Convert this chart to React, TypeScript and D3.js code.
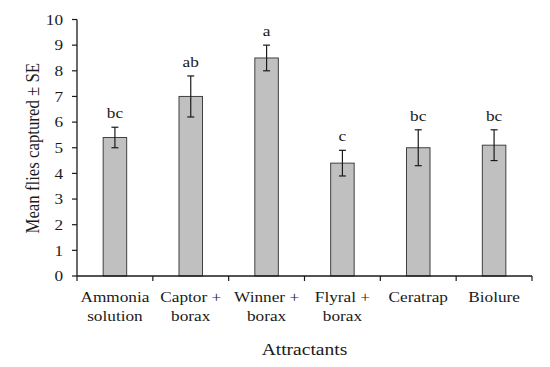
import React from 'react';
import * as d3 from 'd3';

// attractant categories (two-line labels) and their means / SE
const categories = ['Ammonia solution', 'Captor + borax', 'Winner + borax', 'Flyral + borax', 'Ceratrap', 'Biolure'];
const labelLines = [['Ammonia', 'solution'], ['Captor +', 'borax'], ['Winner +', 'borax'], ['Flyral +', 'borax'], ['Ceratrap'], ['Biolure']];
const means = [5.4, 7.0, 8.5, 4.4, 5.0, 5.1];
const errors = [0.4, 0.8, 0.5, 0.5, 0.7, 0.6];
const letters = ['bc', 'ab', 'a', 'c', 'bc', 'bc'];
const yTicks = [0, 1, 2, 3, 4, 5, 6, 7, 8, 9, 10];

const W = 550;
const H = 367;
const margin = { top: 19.5, right: 18, bottom: 91, left: 77 };
const font = "'Liberation Serif', 'Times New Roman', serif";
// the source image is a little stretched horizontally, text included
const sx = 1.15;

export default function App() {
  const x = d3.scaleBand<string>()
    .domain(categories)
    .range([margin.left, W - margin.right])
    .paddingInner(0.69)
    .paddingOuter(0.345);

  const y = d3.scaleLinear()
    .domain([0, 10])
    .range([H - margin.bottom, margin.top]);

  const band = (W - margin.right - margin.left) / categories.length;
  const y0 = y(0);
  const ink = '#1a1a1a';

  return (
    <div style={{ position: 'fixed', left: 0, top: 0, background: '#fff' }}>
      <svg width={W} height={H} style={{ display: 'block', fontFamily: font }}>
        {/* y axis */}
        <line x1={margin.left} x2={margin.left} y1={y(10)} y2={y0} stroke={ink} strokeWidth={1.3} />
        {yTicks.map(t => (
          <g key={t}>
            <line x1={margin.left - 5} x2={margin.left} y1={y(t)} y2={y(t)} stroke={ink} strokeWidth={1.2} />
            <text transform={`translate(${margin.left - 14},${y(t)}) scale(${sx},1)`} dy="0.35em"
              textAnchor="end" fontSize={15} fill={ink}>{t}</text>
          </g>
        ))}

        {/* bars */}
        {categories.map((c, i) => {
          const bx = x(c)!;
          const cx = bx + x.bandwidth() / 2;
          const top = y(means[i] + errors[i]);
          const bot = y(means[i] - errors[i]);
          return (
            <g key={c}>
              <rect x={bx} y={y(means[i])} width={x.bandwidth()} height={y0 - y(means[i])}
                fill="#c0c0c0" stroke="#404040" strokeWidth={1} />
              <line x1={cx} x2={cx} y1={top} y2={bot} stroke={ink} strokeWidth={1.2} />
              <line x1={cx - 3.5} x2={cx + 3.5} y1={top} y2={top} stroke={ink} strokeWidth={1.2} />
              <line x1={cx - 3.5} x2={cx + 3.5} y1={bot} y2={bot} stroke={ink} strokeWidth={1.2} />
              <text transform={`translate(${cx},${top - 9}) scale(${sx},1)`} textAnchor="middle"
                fontSize={15} fill={ink}>{letters[i]}</text>
            </g>
          );
        })}

        {/* x axis */}
        <line x1={margin.left} x2={W - margin.right} y1={y0} y2={y0} stroke={ink} strokeWidth={1.3} />
        {d3.range(categories.length + 1).map(k => (
          <line key={k} x1={margin.left + k * band} x2={margin.left + k * band} y1={y0} y2={y0 + 5} stroke={ink} strokeWidth={1.2} />
        ))}
        {categories.map((c, i) => {
          const cx = x(c)! + x.bandwidth() / 2;
          return (
            <text key={c} transform={`translate(${cx},301.5) scale(${sx},1)`} textAnchor="middle" fontSize={15} fill={ink}>
              {labelLines[i].map((l, j) => (
                <tspan key={j} x={0} dy={j === 0 ? 0 : 20}>{l}</tspan>
              ))}
            </text>
          );
        })}

        {/* axis titles */}
        <text transform={`translate(${(margin.left + W - margin.right) / 2},355) scale(${sx},1)`}
          textAnchor="middle" fontSize={17} fill={ink}>Attractants</text>
        <text transform={`translate(38.5,${(y(10) + y0) / 2 + 0.5}) scale(${sx},1) rotate(-90)`}
          textAnchor="middle" fontSize={16.8} fill={ink}>
          Mean flies captured ± SE
        </text>
      </svg>
    </div>
  );
}
